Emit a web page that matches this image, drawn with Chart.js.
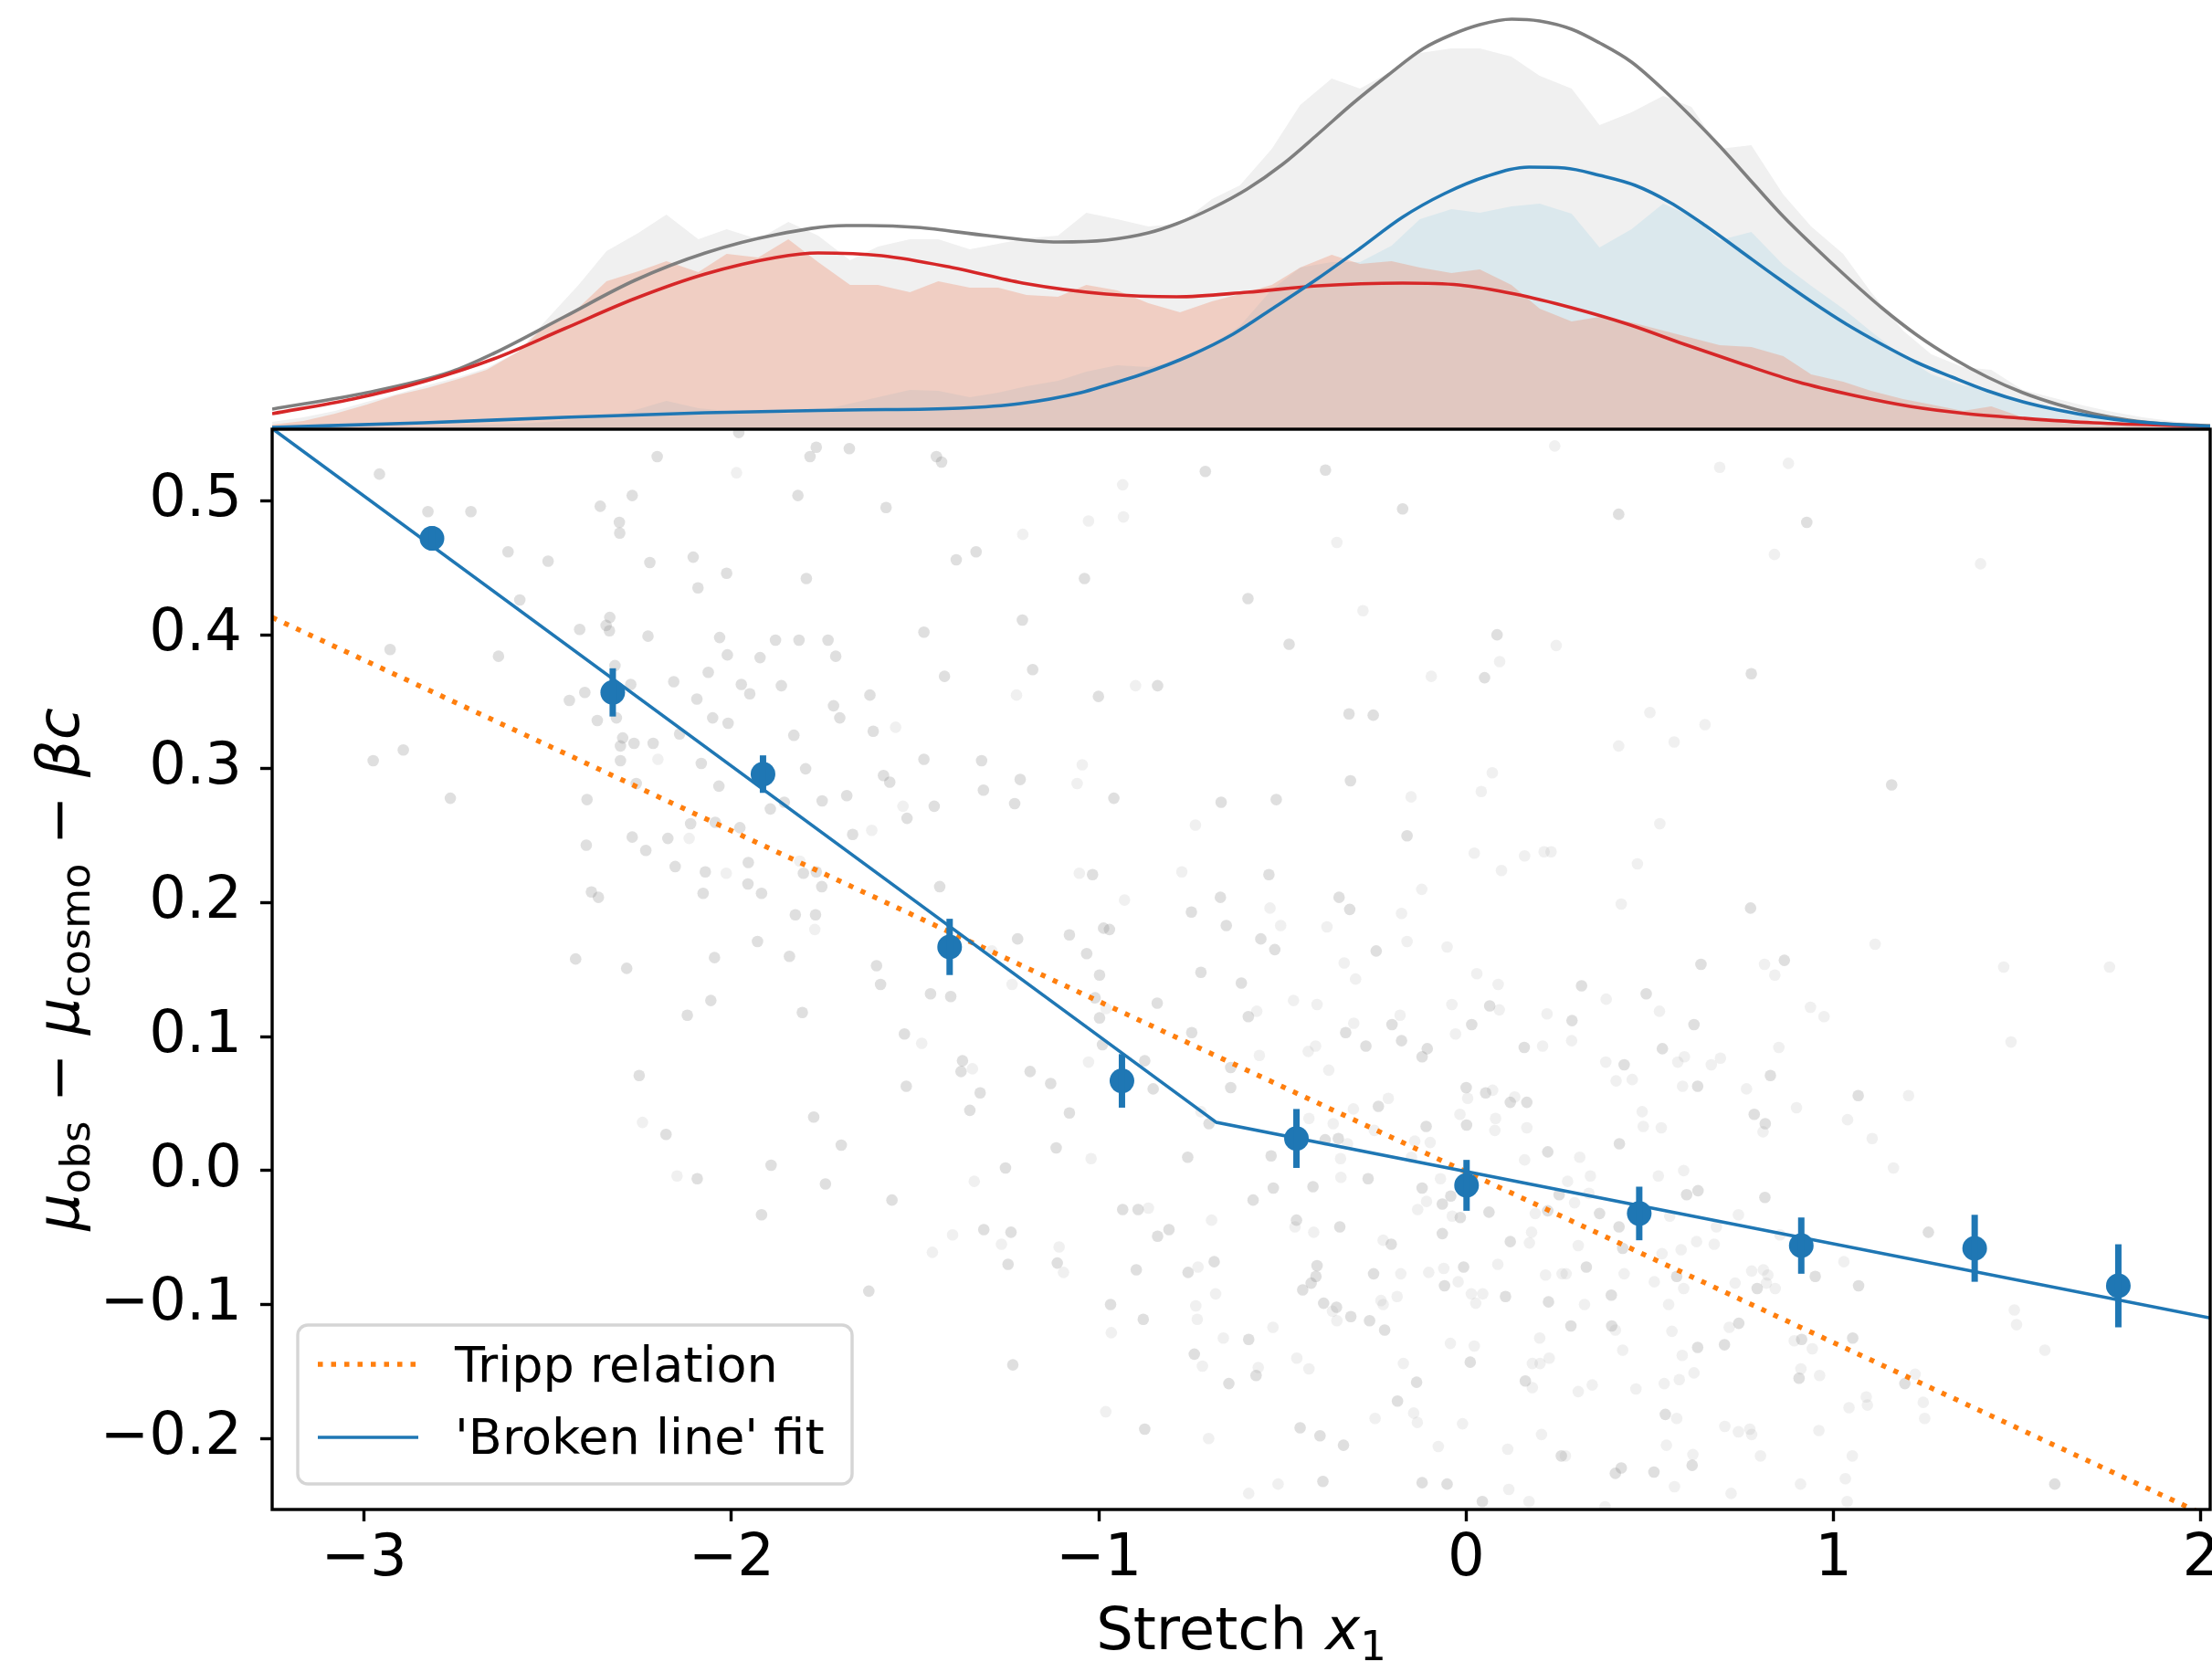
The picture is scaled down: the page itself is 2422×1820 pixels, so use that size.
<!DOCTYPE html>
<html lang="en">
<head>
<meta charset="UTF-8">
<title>Stretch residuals</title>
<style>
    body { margin: 0; background: #fff; }
    #wrap { position: relative; width: 2422px; height: 1820px; }
    #wrap canvas { position: absolute; left: 0; top: 0; }
</style>
</head>
<body>
<div id="wrap">
    <canvas id="topPanel" width="2422" height="470"></canvas>
    <canvas id="mainPanel" width="2422" height="1820"></canvas>
</div>

<script src="https://cdn.jsdelivr.net/npm/chart.js"></script>
<script>
// ---- top panel: histograms (bin centres) and smooth densities, arbitrary units
const histX = [-3.25,-3.165,-3.079,-2.992,-2.915,-2.829,-2.743,-2.666,-2.58,-2.503,-2.416,-2.34,-2.253,-2.177,-2.09,-2.013,-1.927,-1.845,-1.764,-1.677,-1.601,-1.514,-1.437,-1.351,-1.274,-1.197,-1.111,-1.034,-0.95,-0.865,-0.779,-0.692,-0.616,-0.529,-0.452,-0.366,-0.289,-0.203,-0.126,-0.04,0.037,0.123,0.2,0.287,0.363,0.45,0.536,0.613,0.69,0.776,0.863,0.939,1.026,1.102,1.189,1.266,1.352,1.429,1.515,1.592,1.669,1.746,1.842,1.938,2.03];
const histAll = [8,13,20,30,38,48,57,67,85,120,158,195,215,235,208,219,208,227,212,185,200,208,208,197,203,209,212,237,230,222,225,252,267,307,355,384,373,392,412,417,417,408,387,373,333,347,365,353,307,311,257,222,192,150,108,82,68,65,43,35,27,20,13,8,5];
const histLow = [5,9,17,27,37,45,55,65,85,115,133,162,173,184,172,192,188,208,183,158,158,150,162,155,155,147,145,158,152,138,128,140,148,158,177,191,181,184,177,171,175,158,132,118,123,117,108,100,92,90,80,60,52,42,33,27,20,25,13,8,5,4,3,2,2];
const histHigh = [2,2,2,2,3,3,4,5,6,8,11,13,22,31,23,20,20,17,20,28,35,43,42,35,40,47,53,63,70,68,75,93,113,153,177,183,183,201,230,241,237,244,247,236,199,219,247,233,207,216,180,157,132,107,80,60,48,43,30,22,16,11,7,5,3];

const kdeAllX = [-3.25,-2.992,-2.762,-2.647,-2.455,-2.263,-2.071,-1.879,-1.687,-1.629,-1.495,-1.303,-1.111,-0.98,-0.865,-0.788,-0.692,-0.596,-0.5,-0.404,-0.308,-0.212,-0.116,-0.04,0.037,0.124,0.2,0.287,0.363,0.45,0.536,0.613,0.69,0.786,0.863,0.939,1.035,1.131,1.227,1.323,1.419,1.515,1.611,1.707,1.803,1.899,2.03];
const kdeAllY = [22,40,63,83,123,163,193,213,223,223,221,212,205,207,215,225,242,263,290,323,357,388,417,432,443,449,447,438,423,402,372,342,310,267,233,203,167,133,103,78,57,40,27,17,10,6,4];
const kdeLowX = [-3.25,-3.031,-2.839,-2.647,-2.455,-2.263,-2.071,-1.879,-1.764,-1.591,-1.399,-1.207,-0.98,-0.788,-0.596,-0.404,-0.174,-0.02,0.133,0.287,0.44,0.594,0.747,0.901,1.055,1.208,1.362,1.515,1.707,2.03];
const kdeLowY = [17,33,52,77,110,143,170,188,193,190,177,160,148,145,150,157,160,158,148,133,115,93,72,52,37,25,17,12,7,3];
const kdeHighX = [-3.25,-2.839,-2.455,-2.071,-1.687,-1.38,-1.215,-1.049,-0.98,-0.884,-0.75,-0.635,-0.52,-0.404,-0.289,-0.174,-0.059,0.056,0.171,0.268,0.363,0.46,0.556,0.651,0.747,0.843,0.939,1.035,1.131,1.227,1.323,1.419,1.515,1.611,1.707,1.803,1.899,2.03];
const kdeHighY = [2,7,13,18,21,23,28,40,48,60,81,104,134,165,198,232,258,277,287,286,278,267,248,223,195,167,140,115,93,73,57,42,30,21,14,9,6,3];

// ---- main panel
const darkDots = [
    [-1.980,0.551],[-1.769,0.540],[-1.786,0.533],[-1.679,0.539],[-2.202,0.533],[-2.958,0.520],[-2.270,0.504],[-1.819,0.504],
    [-1.579,0.495],[-2.357,0.496],[-2.826,0.492],[-2.709,0.492],[-2.305,0.484],[-2.304,0.476],[-2.608,0.462],[-2.499,0.455],
    [-2.222,0.454],[-2.104,0.458],[-2.013,0.446],[-1.796,0.442],[-2.091,0.435],[-2.576,0.426],[-2.331,0.413],[-2.341,0.407],
    [-2.332,0.403],[-2.413,0.404],[-2.227,0.399],[-2.032,0.398],[-1.880,0.396],[-1.816,0.396],[-1.737,0.396],[-2.929,0.389],
    [-2.634,0.384],[-2.011,0.385],[-1.922,0.383],[-1.716,0.384],[-2.317,0.377],[-2.063,0.372],[-2.157,0.365],[-2.274,0.363],
    [-1.973,0.363],[-1.950,0.356],[-1.864,0.362],[-1.623,0.355],[-2.399,0.357],[-2.441,0.351],[-2.094,0.352],[-2.365,0.336],
    [-2.313,0.338],[-2.051,0.338],[-2.009,0.334],[-1.722,0.347],[-1.705,0.338],[-1.830,0.325],[-1.614,0.328],[-2.141,0.326],
    [-2.296,0.323],[-2.302,0.317],[-2.265,0.319],[-2.213,0.319],[-2.893,0.314],[-2.975,0.306],[-2.302,0.306],[-2.082,0.304],
    [-1.798,0.300],[-1.586,0.295],[-1.569,0.290],[-2.259,0.289],[-2.034,0.287],[-1.686,0.280],[-1.753,0.276],[-1.856,0.275],
    [-1.894,0.270],[-1.522,0.263],[-2.765,0.278],[-2.393,0.277],[-2.111,0.259],[-2.044,0.260],[-1.977,0.256],[-1.670,0.251],
    [-2.270,0.249],[-2.173,0.248],[-2.233,0.239],[-2.395,0.243],[-1.954,0.230],[-1.804,0.222],[-1.769,0.223],[-2.153,0.227],
    [-2.071,0.223],[-1.955,0.214],[-1.918,0.207],[-1.754,0.212],[-2.381,0.208],[-2.362,0.204],[-2.077,0.207],[-1.826,0.191],
    [-1.771,0.191],[-1.929,0.171],[-2.424,0.158],[-2.285,0.151],[-2.046,0.159],[-1.842,0.160],[-1.605,0.153],
    [-1.442,0.533],[-1.428,0.529],[-0.710,0.522],[-0.383,0.523],[-1.334,0.462],[-1.388,0.456],[-0.173,0.494],[-1.039,0.442],
    [-0.594,0.427],[-1.476,0.402],[-1.208,0.411],[-0.482,0.393],[0.084,0.400],[0.050,0.368],[-1.420,0.369],[-1.180,0.374],
    [-1.001,0.354],[-0.840,0.362],[-0.319,0.341],[-0.253,0.340],[-1.476,0.307],[-1.319,0.306],[-1.214,0.292],[-1.314,0.284],
    [-1.448,0.272],[-1.229,0.274],[-0.959,0.278],[-0.667,0.275],[-0.517,0.277],[-0.315,0.291],[-0.161,0.250],[-1.017,0.221],
    [-0.537,0.221],[-1.433,0.212],[-0.669,0.204],[-0.346,0.204],[-0.317,0.195],[-0.748,0.193],[-0.653,0.183],[-0.987,0.181],
    [-0.971,0.180],[-1.080,0.176],[-1.221,0.173],[-0.559,0.173],[-0.521,0.165],[-0.245,0.164],[-1.033,0.162],
    [0.415,0.490],[0.927,0.484],[0.776,0.371],[1.158,0.288],[0.774,0.196],[0.639,0.154],[0.866,0.157],
    [-1.594,0.139],[-2.056,0.127],[-2.120,0.116],[-1.807,0.118],[-1.529,0.102],[-2.251,0.071],[-1.524,0.063],[-2.178,0.027],
    [-1.776,0.040],[-1.701,0.019],[-1.892,0.004],[-2.093,-0.006],[-1.744,-0.010],[-1.563,-0.022],[-1.918,-0.033],[-1.626,-0.090],
    [-0.998,0.146],[-0.722,0.148],[-0.612,0.140],[-1.458,0.132],[-1.403,0.130],[-1.010,0.129],[-0.841,0.125],[-0.593,0.115],
    [0.064,0.123],[-0.202,0.109],[0.015,0.109],[-0.998,0.114],[-0.747,0.103],[-0.328,0.103],[-0.176,0.097],[-0.990,0.094],
    [-0.273,0.093],[-0.106,0.091],[-0.120,0.085],[0.158,0.092],[-1.371,0.082],[-1.375,0.074],[-1.187,0.074],[-0.875,0.082],
    [-0.641,0.077],[-1.131,0.065],[-0.852,0.061],[-0.641,0.062],[-1.323,0.058],[0.000,0.062],[0.053,0.058],[0.120,0.051],
    [0.165,0.051],[-0.239,0.048],[-1.351,0.045],[-1.080,0.043],[-0.700,0.035],[-0.109,0.033],[0.001,0.034],[-0.384,0.023],
    [-0.348,0.024],[-1.116,0.017],[0.222,0.014],[-0.758,0.010],[-0.531,0.011],[-1.254,0.002],[-0.267,-0.006],[-0.525,-0.013],
    [-0.417,-0.012],[-0.120,-0.013],[0.253,-0.018],[-0.580,-0.022],[-0.042,-0.019],[-0.065,-0.025],[-0.935,-0.029],[-0.893,-0.029],
    [-0.462,-0.037],[-0.016,-0.035],[0.062,-0.031],[0.222,-0.030],[-0.344,-0.042],[-0.065,-0.047],[-1.313,-0.044],[-1.239,-0.046],
    [-0.809,-0.044],[-0.840,-0.049],[-0.204,-0.055],[0.120,-0.053],[-1.247,-0.070],[-1.113,-0.069],[-0.898,-0.074],[-0.757,-0.076],
    [-0.686,-0.068],[-0.406,-0.071],[-0.409,-0.079],[-0.422,-0.084],[-0.445,-0.089],[-0.252,-0.077],[-0.007,-0.072],[-0.059,-0.086],
    [0.107,-0.094],[0.224,-0.098],[-0.968,-0.100],[-0.388,-0.099],[-0.353,-0.102],[-0.314,-0.109],[-0.263,-0.112],[-0.222,-0.119],
    [-0.879,-0.111],[-0.592,-0.126],[-0.740,-0.137],[-1.234,-0.145],[-0.572,-0.153],[0.011,-0.143],[-0.646,-0.159],[-0.135,-0.158],
    [0.161,-0.157],[-0.187,-0.172],[-0.875,-0.193],[-0.452,-0.192],[-0.398,-0.198],[-0.334,-0.205],[0.259,-0.213],[-0.390,-0.232],
    [-0.120,-0.233],[-0.052,-0.234],[0.044,-0.247],
    [0.314,0.138],[0.490,0.132],[0.288,0.112],[0.620,0.109],[0.534,0.091],[0.430,0.079],[0.630,0.063],[0.828,0.071],
    [1.067,0.056],[0.784,0.042],[0.814,0.035],[0.417,0.020],[0.600,-0.018],[0.631,-0.015],[0.813,-0.020],[0.363,-0.032],
    [0.416,-0.042],[1.258,-0.046],[0.426,-0.058],[0.327,-0.072],[0.573,-0.079],[0.792,-0.088],[0.950,-0.079],[1.068,-0.086],
    [0.395,-0.093],[0.285,-0.116],[0.396,-0.116],[0.742,-0.114],[0.630,-0.132],[0.703,-0.130],[0.913,-0.126],[1.052,-0.125],
    [0.906,-0.155],[1.194,-0.159],[0.542,-0.182],[0.615,-0.220],[0.422,-0.222],[0.406,-0.226],[0.511,-0.225],[1.602,-0.234]
];
const lightDots = [
    [-1.986,0.521],[-1.553,0.331],[-2.200,0.307],[-1.533,0.272],[-1.618,0.254],[-2.115,0.248],[-1.814,0.231],[-2.014,0.222],[-1.773,0.180],
    [0.241,0.541],[-0.935,0.512],[-0.933,0.488],[-1.028,0.485],[-1.207,0.475],[-0.352,0.469],[-0.281,0.418],[0.245,0.392],
    [0.091,0.380],[-0.095,0.369],[-1.224,0.355],[-0.900,0.362],[-1.045,0.303],[-1.059,0.289],[0.071,0.297],[-0.150,0.279],
    [0.041,0.283],[-0.737,0.258],[0.022,0.237],[0.159,0.235],[0.212,0.238],[0.231,0.238],[0.096,0.224],[-1.053,0.222],
    [-0.774,0.223],[-0.121,0.210],[-0.930,0.202],[-0.534,0.196],[-0.176,0.192],[-0.505,0.183],[-0.379,0.182],[-0.161,0.171],
    [-0.052,0.167],[-0.332,0.155],[-1.291,0.164],
    [0.690,0.525],[0.877,0.528],[0.839,0.460],[1.400,0.453],[0.500,0.342],[0.650,0.333],[0.415,0.317],[0.566,0.320],
    [0.527,0.259],[0.466,0.229],[0.422,0.199],[1.113,0.169],[0.812,0.154],[1.463,0.152],[1.751,0.152],
    [-2.242,0.036],[-2.148,-0.004],
    [-0.301,0.143],[0.029,0.147],[0.087,0.139],[-1.236,0.139],[-0.470,0.127],[-0.406,0.124],[-0.570,0.119],[-0.039,0.124],
    [0.090,0.120],[-0.180,0.116],[0.220,0.117],[-0.306,0.110],[-0.980,0.121],[-0.029,0.102],[-1.482,0.095],[-0.410,0.093],
    [-0.430,0.089],[0.208,0.093],[-0.563,0.086],[-1.344,0.076],[-1.028,0.081],[-0.374,0.075],[0.072,0.060],[0.004,0.054],
    [0.132,0.055],[-0.212,0.054],[-0.722,0.044],[-0.307,0.046],[-0.017,0.042],[0.080,0.039],[-0.428,0.039],[-0.362,0.035],
    [0.078,0.030],[0.165,0.032],[-0.250,0.030],[-0.323,0.020],[-0.140,0.022],[-0.098,0.021],[0.159,0.008],[-1.021,0.009],
    [-0.342,0.009],[-0.149,0.010],[-1.339,-0.008],[-0.341,-0.005],[-0.070,-0.006],[-0.108,-0.023],[-0.865,-0.028],[-0.693,-0.037],
    [-0.132,-0.029],[-0.038,-0.034],[0.188,-0.032],[-0.466,-0.042],[-0.415,-0.046],[0.178,-0.046],[-1.398,-0.048],[-1.265,-0.055],
    [-1.453,-0.061],[-1.108,-0.057],[-0.226,-0.052],[0.172,-0.054],[-1.096,-0.076],[-0.730,-0.072],[-0.178,-0.077],[-0.102,-0.076],
    [-0.061,-0.073],[0.086,-0.070],[0.216,-0.078],[0.261,-0.077],[-0.022,-0.083],[-0.682,-0.092],[0.014,-0.092],[0.045,-0.092],
    [0.026,-0.099],[-0.736,-0.101],[-0.364,-0.105],[-0.352,-0.112],[-0.232,-0.097],[-0.226,-0.100],[-0.188,-0.094],[-0.732,-0.111],
    [-0.526,-0.117],[-0.966,-0.121],[-0.661,-0.125],[-0.043,-0.129],[0.022,-0.131],[0.200,-0.125],[-0.718,-0.146],[-0.461,-0.140],
    [-0.428,-0.148],[-0.566,-0.147],[-0.171,-0.144],[0.180,-0.144],[0.201,-0.144],[0.226,-0.140],[0.180,-0.162],[-0.143,-0.181],
    [-0.133,-0.188],[-0.248,-0.185],[-0.010,-0.189],[-0.981,-0.180],[-0.701,-0.200],[-0.076,-0.206],[0.113,-0.208],[0.205,-0.197],
    [-0.512,-0.234],[-0.592,-0.241],[0.116,-0.238],[0.171,-0.247],
    [0.381,0.128],[0.526,0.119],[0.287,0.097],[0.937,0.122],[0.974,0.115],[0.840,0.146],[0.380,0.081],[0.576,0.081],
    [0.594,0.085],[0.667,0.079],[0.692,0.084],[0.851,0.092],[1.483,0.096],[0.408,0.067],[0.452,0.068],[0.589,0.063],
    [0.763,0.061],[1.204,0.056],[0.479,0.044],[0.808,0.029],[0.482,0.033],[0.531,0.032],[0.899,0.047],[1.038,0.038],
    [1.105,0.024],[0.309,0.010],[0.338,-0.004],[0.523,-0.004],[0.592,0.000],[1.163,0.002],[0.276,-0.008],[0.334,-0.017],
    [0.295,-0.024],[0.554,-0.034],[0.741,-0.033],[0.681,-0.042],[0.854,-0.048],[0.305,-0.056],[0.533,-0.062],[0.585,-0.059],
    [0.627,-0.053],[0.675,-0.055],[1.028,-0.068],[0.272,-0.077],[0.430,-0.077],[0.512,-0.083],[0.592,-0.088],[0.732,-0.084],
    [0.777,-0.075],[0.809,-0.074],[0.821,-0.078],[0.841,-0.088],[0.817,-0.084],[0.322,-0.100],[0.551,-0.100],[0.406,-0.119],
    [0.560,-0.120],[0.716,-0.117],[1.492,-0.104],[1.498,-0.115],[0.426,-0.134],[0.588,-0.138],[0.893,-0.127],[0.942,-0.133],
    [1.575,-0.134],[0.343,-0.160],[0.305,-0.165],[0.462,-0.163],[0.539,-0.159],[0.580,-0.156],[0.620,-0.151],[0.911,-0.148],
    [0.962,-0.153],[1.222,-0.152],[1.089,-0.169],[1.092,-0.175],[1.244,-0.173],[1.042,-0.177],[1.248,-0.185],[0.573,-0.185],
    [0.704,-0.191],[0.741,-0.195],[0.772,-0.193],[0.777,-0.197],[0.960,-0.194],[0.270,-0.213],[0.545,-0.205],[0.617,-0.212],
    [0.801,-0.213],[1.051,-0.213],[0.567,-0.236],[0.721,-0.241],[0.910,-0.234],[1.032,-0.230],[0.378,-0.251],[1.037,-0.247]
];

const binX = [-2.815,-2.323,-1.914,-1.406,-0.937,-0.462,0.001,0.471,0.912,1.384,1.775];
const binY = [0.472,0.357,0.296,0.167,0.067,0.024,-0.011,-0.032,-0.056,-0.058,-0.086];
const binErr = [0.009,0.018,0.014,0.021,0.020,0.022,0.019,0.020,0.021,0.025,0.031];

const trippX = [-3.25, 2.025];
const trippY = [0.413, -0.259];
const brokenX = [-3.25, -0.68, 2.025];
const brokenY = [0.554, 0.036, -0.110];

const legendLabels = ['Tripp relation', "'Broken line' fit"];
const xTicks = [-3, -2, -1, 0, 1, 2];

const X_MIN = -3.25, X_MAX = 2.025;
const FONT = '"DejaVu Sans"';
const BLUE = '#1f77b4', ORANGE = '#ff7f0e';

const toPts = (xs, ys) => xs.map((x, i) => ({ x: x, y: ys[i] }));
const pairPts = arr => arr.map(p => ({ x: p[0], y: p[1] }));
const minus = v => (Math.abs(v) < 1e-9 ? 0 : v) < 0 ? '\u2212' : '';

// ---------- top panel ----------
const fillSet = (xs, ys, color, order) => ({
    data: toPts(xs, ys), backgroundColor: color, borderColor: 'rgba(0,0,0,0)', borderWidth: 0,
    fill: 'origin', pointRadius: 0, tension: 0, order: order
});
const curveSet = (xs, ys, color, order) => ({
    data: toPts(xs, ys), borderColor: color, borderWidth: 3.6, fill: false,
    pointRadius: 0, cubicInterpolationMode: 'monotone', order: order
});

new Chart(document.getElementById('topPanel'), {
    type: 'line',
    data: {
        datasets: [
            curveSet(kdeAllX, kdeAllY, '#7f7f7f', 3),
            curveSet(kdeLowX, kdeLowY, '#d62728', 2),
            curveSet(kdeHighX, kdeHighY, BLUE, 1),
            fillSet(histX, histAll, '#f0f0f0', 10),
            fillSet(histX, histHigh, '#dbe8ed', 9),
            fillSet(histX, histLow, 'rgba(240,120,80,0.28)', 8)
        ]
    },
    options: {
        responsive: false,
        animation: false,
        devicePixelRatio: 1,
        layout: { autoPadding: false, padding: { left: 298, right: 2, top: 0, bottom: 0 } },
        plugins: { legend: { display: false }, tooltip: { enabled: false } },
        scales: {
            x: { type: 'linear', display: false, min: X_MIN, max: X_MAX },
            y: { display: false, min: 0, max: 470 }
        }
    }
});

// ---------- main panel plugins ----------
const errorBars = {
    id: 'errorBars',
    afterDatasetsDraw(chart) {
        const { ctx, chartArea: a, scales: { x, y } } = chart;
        ctx.save();
        ctx.beginPath();
        ctx.rect(a.left, a.top, a.width, a.height);
        ctx.clip();
        ctx.strokeStyle = BLUE;
        ctx.lineWidth = 7;
        binX.forEach((bx, i) => {
            const px = x.getPixelForValue(bx);
            ctx.beginPath();
            ctx.moveTo(px, y.getPixelForValue(binY[i] - binErr[i]));
            ctx.lineTo(px, y.getPixelForValue(binY[i] + binErr[i]));
            ctx.stroke();
        });
        ctx.restore();
    }
};

const frame = {
    id: 'frame',
    afterDatasetsDraw(chart) {
        const { ctx, chartArea: a } = chart;
        ctx.save();
        ctx.strokeStyle = '#000';
        ctx.lineWidth = 3.4;
        ctx.strokeRect(a.left, a.top, a.width, a.height);
        ctx.restore();
    }
};

const insetLegend = {
    id: 'insetLegend',
    afterDraw(chart) {
        const { ctx, chartArea: a } = chart;
        const w = 607, h = 174;
        const left = a.left + 28, top = a.bottom - 28 - h;
        ctx.save();
        ctx.beginPath();
        ctx.roundRect(left, top, w, h, 11);
        ctx.fillStyle = 'rgba(255,255,255,0.8)';
        ctx.fill();
        ctx.strokeStyle = '#d5d5d5';
        ctx.lineWidth = 3.4;
        ctx.stroke();

        // Tripp sample
        ctx.beginPath();
        ctx.strokeStyle = ORANGE;
        ctx.lineWidth = 5.5;
        ctx.setLineDash([5.5, 9]);
        ctx.moveTo(left + 22, top + 43);
        ctx.lineTo(left + 132, top + 43);
        ctx.stroke();
        // broken line sample
        ctx.beginPath();
        ctx.setLineDash([]);
        ctx.strokeStyle = BLUE;
        ctx.lineWidth = 3.6;
        ctx.moveTo(left + 22, top + 123);
        ctx.lineTo(left + 132, top + 123);
        ctx.stroke();

        ctx.fillStyle = '#000';
        ctx.font = '54px ' + FONT;
        ctx.textAlign = 'left';
        ctx.textBaseline = 'alphabetic';
        ctx.fillText(legendLabels[0], left + 172, top + 62);
        ctx.fillText(legendLabels[1], left + 172, top + 141);
        ctx.restore();
    }
};

// draws pieces of mixed text (roman / italic / subscript) along the baseline
function drawPieces(ctx, pieces, startX) {
    let cx = startX;
    pieces.forEach(p => {
        ctx.font = p.font;
        ctx.fillText(p.t, cx, p.dy || 0);
        cx += ctx.measureText(p.t).width;
    });
}
function piecesWidth(ctx, pieces) {
    return pieces.reduce((s, p) => { ctx.font = p.font; return s + ctx.measureText(p.t).width; }, 0);
}

const axisTitles = {
    id: 'axisTitles',
    afterDraw(chart) {
        const { ctx, chartArea: a } = chart;
        const rm = '64px ' + FONT, it = 'italic 64px ' + FONT, sub = '45px ' + FONT;
        ctx.save();
        ctx.fillStyle = '#000';
        ctx.textAlign = 'left';
        ctx.textBaseline = 'alphabetic';

        // x title
        const xp = [
            { t: 'Stretch ', font: rm },
            { t: 'x', font: it },
            { t: '1', font: sub, dy: 12 }
        ];
        const xw = piecesWidth(ctx, xp);
        ctx.save();
        ctx.translate((a.left + a.right) / 2, 1806);
        drawPieces(ctx, xp, -xw / 2);
        ctx.restore();

        // y title
        const yp = [
            { t: '\u03bc', font: it },
            { t: 'obs', font: sub, dy: 12 },
            { t: ' \u2212 ', font: rm },
            { t: '\u03bc', font: it },
            { t: 'cosmo', font: sub, dy: 12 },
            { t: ' \u2212 ', font: rm },
            { t: '\u03b2', font: it },
            { t: 'c', font: it }
        ];
        const yw = piecesWidth(ctx, yp);
        ctx.translate(86, (a.top + a.bottom) / 2);
        ctx.rotate(-Math.PI / 2);
        drawPieces(ctx, yp, -yw / 2);
        ctx.restore();
    }
};

// ---------- main panel ----------
const tickFont = { family: 'DejaVu Sans', size: 64 };
const tickGrid = { display: true, drawOnChartArea: false, drawTicks: true, tickLength: 13, tickWidth: 3.4, tickColor: '#000' };

new Chart(document.getElementById('mainPanel'), {
    type: 'scatter',
    data: {
        datasets: [
            {
                data: toPts(binX, binY), backgroundColor: BLUE, borderWidth: 0, pointBorderWidth: 0,
                pointRadius: 13.5, order: 1
            },
            {
                data: toPts(brokenX, brokenY), showLine: true, borderColor: BLUE, borderWidth: 3.6,
                pointRadius: 0, order: 2
            },
            {
                data: toPts(trippX, trippY), showLine: true, borderColor: ORANGE, borderWidth: 5.5,
                borderDash: [5.5, 9], pointRadius: 0, order: 3
            },
            {
                data: pairPts(darkDots), backgroundColor: 'rgba(128,128,128,0.25)', borderColor: 'rgba(0,0,0,0)',
                pointBorderWidth: 0, pointRadius: 6.3, order: 10
            },
            {
                data: pairPts(lightDots), backgroundColor: 'rgba(128,128,128,0.12)', borderColor: 'rgba(0,0,0,0)',
                pointBorderWidth: 0, pointRadius: 6.3, order: 11
            }
        ]
    },
    options: {
        responsive: false,
        animation: false,
        devicePixelRatio: 1,
        layout: { autoPadding: false, padding: { left: 0, right: 2, top: 470, bottom: 0 } },
        plugins: { legend: { display: false }, tooltip: { enabled: false } },
        scales: {
            x: {
                type: 'linear', min: X_MIN, max: X_MAX,
                afterFit(s) { s.height = 167; s.paddingLeft = 0; s.paddingRight = 0; },
                afterBuildTicks(s) { s.ticks = xTicks.map(v => ({ value: v })); },
                ticks: {
                    padding: 4, color: '#000', font: tickFont, maxRotation: 0, autoSkip: false,
                    callback: v => minus(v) + Math.abs(v).toFixed(0)
                },
                grid: tickGrid,
                border: { display: false }
            },
            y: {
                min: -0.253, max: 0.5535,
                afterFit(s) { s.width = 298; s.paddingTop = 0; s.paddingBottom = 0; },
                ticks: {
                    stepSize: 0.1, includeBounds: false, padding: 20, color: '#000', font: tickFont,
                    callback: v => minus(v) + Math.abs(v).toFixed(1)
                },
                grid: tickGrid,
                border: { display: false }
            }
        }
    },
    plugins: [errorBars, frame, insetLegend, axisTitles]
});
</script>
</body>
</html>
